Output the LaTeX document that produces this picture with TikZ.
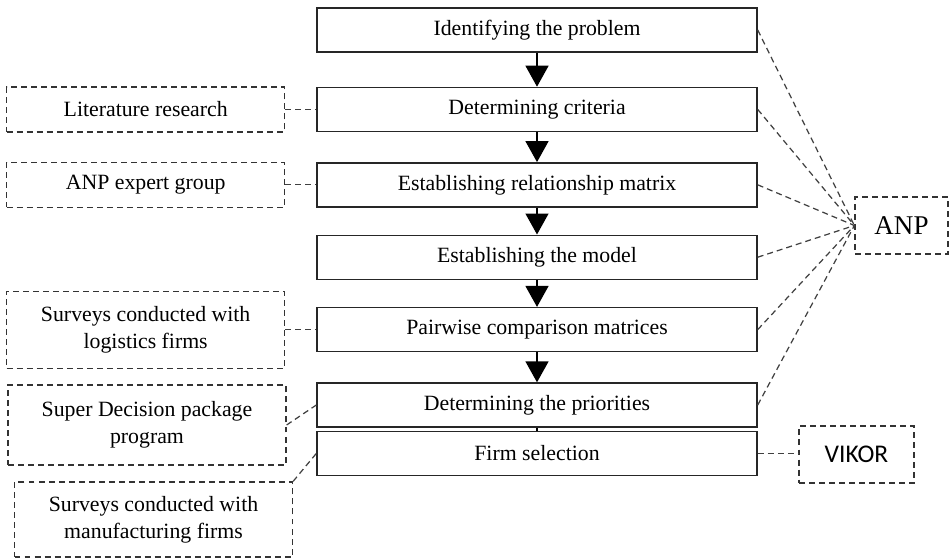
\documentclass[tikz,border=0pt]{standalone}
\usepackage{fontspec}
\setmainfont{Liberation Serif}
\newfontfamily\calibrifont{Carlito}
\usetikzlibrary{arrows.meta,calc,positioning}

\begin{document}
\begin{tikzpicture}[node distance=0.6cm and 0.62cm]

\tikzset{stepnode/.style={draw=black!85,line width=0.8pt,minimum width=8.8cm,minimum height=0.88cm,inner sep=0pt,font=\fontsize{12.4}{15.2}\selectfont},
sourcenode/.style={draw=black!80,dash pattern=on 3.4pt off 2.3pt,line width=0.7pt,minimum width=5.56cm,inner sep=0pt,align=center,font=\fontsize{12.4}{15.2}\selectfont},
methodnode/.style={draw=black!80,dash pattern=on 3.4pt off 2.3pt,line width=0.7pt,inner sep=0pt},
link/.style={draw=black!75,line width=0.7pt,dash pattern=on 3.4pt off 2.3pt},
flow/.style={-{Triangle[length=0.42cm,width=0.46cm]},line width=0.8pt}}

\useasboundingbox (0,0) rectangle (19,-11.18);

% main steps
\node (s1) [stepnode] at (10.74,-0.6) {Identifying the problem};
\node (s2) [below=0.68cm of s1,stepnode] {Determining criteria};
\node (s3) [below=0.6cm of s2,stepnode] {Establishing relationship matrix};
\node (s4) [below=0.54cm of s3,stepnode] {Establishing the model};
\node (s5) [below=0.54cm of s4,stepnode] {Pairwise comparison matrices};
\node (s6) [below=0.6cm of s5,stepnode] {Determining the priorities};
\node (s7) [below=0.06cm of s6,stepnode] {Firm selection};

% Left source nodes
\node (lit) [left=of s2,sourcenode,minimum height=0.9cm] {Literature research};
\node (expert) [left=of s3,sourcenode,minimum height=0.9cm] {ANP expert group};
\node (logis) [left=of s5,sourcenode,minimum height=1.54cm] {Surveys conducted with\\logistics firms};
\node (superd) [sourcenode,minimum height=1.6cm] at (2.94,-8.5) {Super Decision package\\program};
\node (manuf) [sourcenode,minimum height=1.5cm] at (3.07,-10.39) {Surveys conducted with\\manufacturing firms};

% Methods
\node (anp) [methodnode,minimum width=1.86cm,minimum height=1.14cm,font=\fontsize{15.4}{18}\selectfont] at (18.03,-4.51) {ANP};
\node (vikor) [methodnode,minimum width=2.3cm,minimum height=1.14cm,font=\calibrifont\fontsize{14.5}{17}\selectfont] at (17.13,-9.09) {VIKOR};

% Edges
\foreach \a/\b in {s1/s2,s2/s3,s3/s4,s4/s5,s5/s6} \draw[flow] (\a) -- (\b);
\draw[line width=0.8pt] (s6) -- (s7);
\foreach \s in {s1,s2,s3,s4,s5,s6} \draw[link] (\s.east) -- (anp.west); % to ANP
\draw[link] (lit) -- (s2);
\draw[link] (expert) -- (s3);
\draw[link] (logis) -- (s5);
\draw[link] (superd.east) -- (s6.west);
\draw[link] (manuf.north east) -- (s7.west);
\draw[link] (s7.east) -- (s7.east -| vikor.west);

\end{tikzpicture}
\end{document}
